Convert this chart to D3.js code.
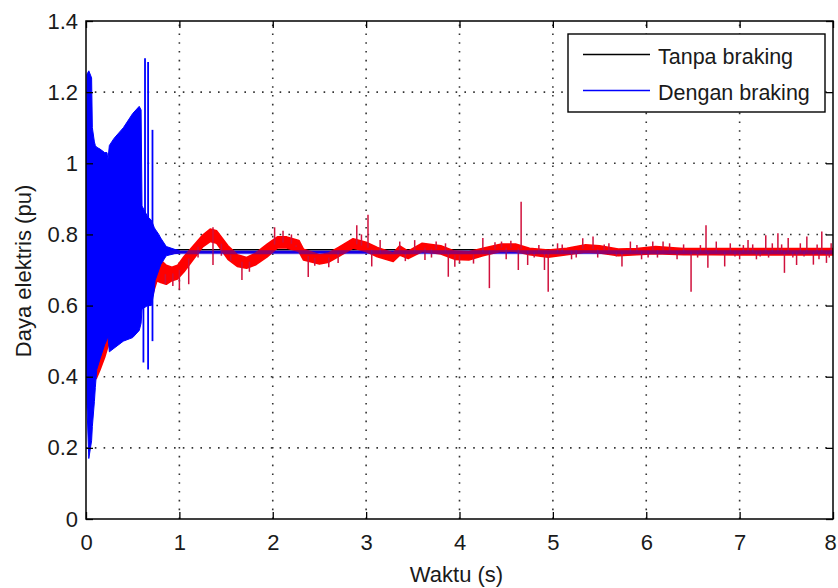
<!DOCTYPE html>
<html><head><meta charset="utf-8">
<script src="https://cdn.jsdelivr.net/npm/d3@7"></script>
<style>
body{margin:0;background:#fff}
svg text{font-family:"Liberation Sans",Arial,Helvetica,sans-serif;fill:#1a1a1a}
</style></head><body>
<svg id="chart" width="838" height="588"></svg>
<script>
// ---------- axis ticks ----------
const xTicks = [0,1,2,3,4,5,6,7,8];
const xTickLabels = ["0","1","2","3","4","5","6","7","8"];
const yTicks = [0,0.2,0.4,0.6,0.8,1,1.2,1.4];
const yTickLabels = ["0","0.2","0.4","0.6","0.8","1","1.2","1.4"];
const seriesNames = ["Tanpa braking","Dengan braking"];

// ---------- Dengan braking: envelope of the fast oscillation during the fault (s, pu) ----------
const blueEnvT  = [0.000,0.010,0.030,0.060,0.068,0.090,0.100,0.115,0.150,0.200,0.225,0.235,0.250,0.300,0.400,0.500,0.570,0.590,0.600,0.660,0.700,0.730,0.740,0.780,0.800,0.860,0.950,1.000];
const blueEnvHi = [0.75,1.25,1.26,1.24,1.10,1.06,1.05,1.045,1.04,1.03,1.03,1.01,1.05,1.07,1.10,1.14,1.16,1.15,0.88,0.85,0.84,0.82,0.815,0.80,0.79,0.766,0.758,0.755];
const blueEnvLo = [0.74,0.32,0.17,0.22,0.26,0.33,0.37,0.42,0.45,0.49,0.505,0.515,0.47,0.48,0.50,0.51,0.53,0.55,0.59,0.60,0.60,0.64,0.67,0.70,0.715,0.74,0.746,0.747];
// switching spikes near fault clearing
const blueSpikeT  = [0.615,0.632,0.665,0.712];
const blueSpikeLo = [0.44,0.60,0.42,0.50];
const blueSpikeHi = [0.85,1.295,1.285,1.094];
// steady state after clearing
const blueSteadyT = [0.90,8.00];
const blueSteadyV = [0.750,0.750];
const blackT = [0.00,8.00];
const blackV = [0.757,0.757];

// ---------- oscillating response (red band: lower / upper edge) ----------
const redT  = [0.02,0.09,0.11,0.15,0.20,0.24,0.26,0.40,0.60,0.70,0.76,0.80,0.86,0.92,0.98,1.05,1.15,1.25,1.33,1.40,1.52,1.62,1.72,1.82,1.94,2.05,2.15,2.28,2.33,2.50,2.60,2.70,2.86,3.00,3.12,3.29,3.36,3.45,3.60,3.80,3.95,4.10,4.25,4.45,4.60,4.75,4.95,5.15,5.35,5.50,5.70,5.90,6.10,6.40,6.70,7.00,7.50,8.00];
const redLo = [0.70,0.60,0.395,0.42,0.455,0.49,0.52,0.54,0.60,0.62,0.67,0.665,0.66,0.67,0.675,0.695,0.73,0.765,0.78,0.775,0.73,0.71,0.705,0.715,0.737,0.762,0.762,0.752,0.728,0.717,0.722,0.737,0.762,0.752,0.737,0.724,0.742,0.732,0.752,0.745,0.73,0.728,0.74,0.753,0.752,0.743,0.736,0.743,0.75,0.748,0.74,0.743,0.746,0.743,0.743,0.742,0.742,0.742];
const redHi = [0.80,0.95,1.00,1.00,1.00,0.98,1.00,1.05,0.85,0.80,0.74,0.728,0.713,0.708,0.713,0.738,0.768,0.798,0.815,0.81,0.768,0.743,0.735,0.748,0.773,0.793,0.793,0.783,0.758,0.743,0.748,0.763,0.788,0.778,0.763,0.748,0.768,0.753,0.775,0.768,0.753,0.751,0.761,0.773,0.773,0.761,0.756,0.761,0.771,0.768,0.759,0.76,0.766,0.76,0.76,0.76,0.76,0.76];
// spikes on the red trace (time, tip value)
const redSpikeT = [0.85,0.93,1.00,1.10,1.20,1.36,1.36,1.45,1.55,1.67,1.75,2.02,2.11,2.20,2.25,2.38,2.45,2.60,2.70,2.90,2.95,3.02,3.06,3.15,3.36,3.42,3.52,3.63,3.70,3.75,3.85,3.88,3.95,4.00,4.15,4.25,4.32,4.38,4.45,4.50,4.55,4.63,4.66,4.73,4.80,4.85,4.91,4.95,5.05,5.10,5.20,5.25,5.32,5.43,5.48,5.55,5.60,5.68,5.74,5.83,5.90,5.95,6.02,6.07,6.12,6.18,6.25,6.33,6.40,6.48,6.55,6.58,6.64,6.66,6.75,6.84,6.90,6.95,7.00,7.04,7.09,7.14,7.18,7.22,7.28,7.31,7.35,7.41,7.45,7.48,7.52,7.57,7.61,7.65,7.69,7.72,7.79,7.83,7.85,7.88,7.93,7.96,7.98];
const redSpikeV = [0.66,0.655,0.645,0.66,0.735,0.82,0.714,0.74,0.725,0.672,0.695,0.82,0.81,0.80,0.765,0.68,0.712,0.708,0.72,0.826,0.80,0.855,0.71,0.784,0.78,0.725,0.784,0.728,0.735,0.78,0.775,0.681,0.709,0.72,0.718,0.79,0.649,0.778,0.78,0.73,0.782,0.70,0.892,0.714,0.735,0.77,0.70,0.639,0.775,0.772,0.73,0.735,0.789,0.794,0.735,0.772,0.775,0.738,0.71,0.78,0.77,0.73,0.735,0.78,0.735,0.78,0.775,0.73,0.772,0.639,0.735,0.77,0.826,0.706,0.78,0.71,0.775,0.738,0.73,0.77,0.784,0.772,0.73,0.738,0.798,0.735,0.775,0.803,0.772,0.692,0.79,0.735,0.714,0.775,0.738,0.794,0.715,0.772,0.73,0.808,0.72,0.735,0.775];

// ---------- layout ----------
const svg = d3.select("#chart");
const x = d3.scaleLinear().domain([0,8]).range([86,833]);
const y = d3.scaleLinear().domain([0,1.4]).range([519,21]);
const [x0,x1] = x.range(), [y0,y1] = y.range();

svg.append("rect").attr("width",838).attr("height",588).attr("fill","#fff");
svg.append("defs").append("clipPath").attr("id","plot")
  .append("rect").attr("x",x0).attr("y",y1).attr("width",x1-x0).attr("height",y0-y1);

// dotted grid
const grid = svg.append("g").attr("stroke","#333").attr("stroke-width",1.6).attr("stroke-dasharray","1.6,7.2");
grid.selectAll(".gx").data(xTicks.slice(1,-1)).join("line")
  .attr("x1",d=>x(d)).attr("x2",d=>x(d)).attr("y1",y0).attr("y2",y1);
grid.selectAll(".gy").data(yTicks.slice(1,-1)).join("line")
  .attr("y1",d=>y(d)).attr("y2",d=>y(d)).attr("x1",x0).attr("x2",x1);

const plot = svg.append("g").attr("clip-path","url(#plot)");
const zip = (t,a,b) => t.map((d,i)=>({t:d,a:a[i],b:b?b[i]:null}));
const line = d3.line().x(d=>x(d.t)).y(d=>y(d.a));
const band = d3.area().x(d=>x(d.t)).y0(d=>y(d.a)).y1(d=>y(d.b));

// Tanpa braking reference level
plot.append("path").datum(zip(blackT,blackV)).attr("d",line)
  .attr("fill","none").attr("stroke","#000").attr("stroke-width",1.6);
// Dengan braking steady level (under the red trace)
plot.append("path").datum(zip(blueSteadyT,blueSteadyV)).attr("d",line)
  .attr("fill","none").attr("stroke","#0000ff").attr("stroke-width",2.6);

// red band + spikes
const redMid = d3.scaleLinear().domain(redT).range(redT.map((d,i)=>(redLo[i]+redHi[i])/2));
plot.append("path").datum(zip(redT,redLo,redHi)).attr("d",band)
  .attr("fill","#ff0000").attr("stroke","#ff0000").attr("stroke-width",1.6).attr("stroke-linejoin","round");
plot.append("g").selectAll("line").data(zip(redSpikeT,redSpikeV)).join("line")
  .attr("x1",d=>x(d.t)).attr("x2",d=>x(d.t))
  .attr("y1",d=>y(redMid(d.t))).attr("y2",d=>y(d.a))
  .attr("stroke","#d0103c").attr("stroke-width",1.5);

// blue fault oscillation envelope + spikes
plot.append("path").datum(zip(blueEnvT,blueEnvLo,blueEnvHi)).attr("d",band)
  .attr("fill","#0000ff").attr("stroke","#0000ff").attr("stroke-width",1);
plot.append("g").selectAll("line").data(zip(blueSpikeT,blueSpikeLo,blueSpikeHi)).join("line")
  .attr("x1",d=>x(d.t)).attr("x2",d=>x(d.t))
  .attr("y1",d=>y(d.a)).attr("y2",d=>y(d.b))
  .attr("stroke","#0000ff").attr("stroke-width",1.8);
// translucent pass of the blue level over the red trace
plot.append("path").datum(zip(blueSteadyT,blueSteadyV)).attr("d",line)
  .attr("fill","none").attr("stroke","#2a00d0").attr("stroke-width",4).attr("stroke-opacity",0.5);

// axes with inward ticks
const fmtX = (d,i)=>xTickLabels[i], fmtY = (d,i)=>yTickLabels[i];
const styleAxis = g => { g.select(".domain").remove();
  g.selectAll(".tick line").attr("stroke","#000").attr("stroke-width",1.3);
  g.selectAll("text").attr("font-size",22).attr("fill","#1a1a1a"); };
const xAxis = svg.append("g").attr("transform",`translate(0,${y0})`)
  .call(d3.axisBottom(x).tickValues(xTicks).tickFormat(fmtX).tickSizeInner(-7).tickSizeOuter(0).tickPadding(15)).call(styleAxis);
// last label sits at the window edge: keep it inside
xAxis.selectAll(".tick text").filter((d,i)=>i===xTicks.length-1).attr("dx",-3);
svg.append("g").attr("transform",`translate(${x0},0)`)
  .call(d3.axisLeft(y).tickValues(yTicks).tickFormat(fmtY).tickSizeInner(-7).tickSizeOuter(0).tickPadding(8)).call(styleAxis);
svg.append("g").attr("transform",`translate(0,${y1})`)
  .call(d3.axisTop(x).tickValues(xTicks).tickFormat("").tickSizeInner(-7).tickSizeOuter(0)).call(styleAxis);
svg.append("g").attr("transform",`translate(${x1},0)`)
  .call(d3.axisRight(y).tickValues(yTicks).tickFormat("").tickSizeInner(-7).tickSizeOuter(0)).call(styleAxis);

// frame
svg.append("rect").attr("x",x0).attr("y",y1).attr("width",x1-x0).attr("height",y0-y1)
  .attr("fill","none").attr("stroke","#000").attr("stroke-width",1.5);

// axis titles
svg.append("text").attr("x",(x0+x1)/2-3).attr("y",582).attr("text-anchor","middle")
  .attr("font-size",22).text("Waktu (s)");
svg.append("text").attr("transform","translate(31,271) rotate(-90)").attr("text-anchor","middle")
  .attr("font-size",22).text("Daya elektris (pu)");

// legend
const lg = svg.append("g");
lg.append("rect").attr("x",568).attr("y",34).attr("width",257).attr("height",78)
  .attr("fill","#fff").attr("stroke","#000").attr("stroke-width",1.4);
const legendColors = ["#000","#0000ff"];
const legendY = [54.5,90.5];
seriesNames.forEach((name,i)=>{
  lg.append("line").attr("x1",583).attr("x2",650).attr("y1",legendY[i]).attr("y2",legendY[i])
    .attr("stroke",legendColors[i]).attr("stroke-width",1.6);
  lg.append("text").attr("x",658).attr("y",legendY[i]+9.5).attr("font-size",21.5).text(name);
});
</script>
</body></html>
